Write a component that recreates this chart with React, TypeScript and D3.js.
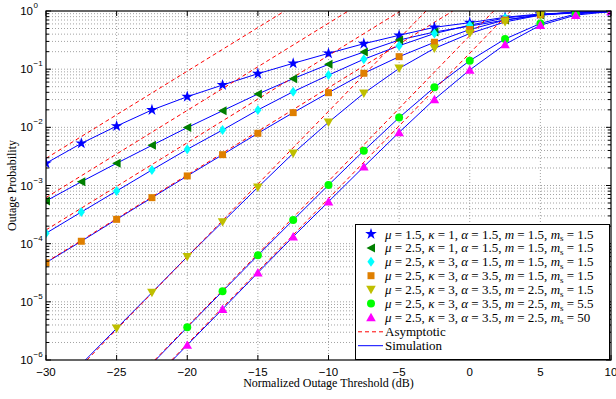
import { useEffect, useRef } from 'react';
import * as d3 from 'd3';

// normalized outage threshold (dB) at which markers are placed
const threshold = [-30, -27.5, -25, -22.5, -20, -17.5, -15, -12.5, -10, -7.5, -5, -2.5, 0, 2.5, 5, 7.5, 10];
const xTicks = [-30, -25, -20, -15, -10, -5, 0, 5, 10];
const yDecades = [-6, -5, -4, -3, -2, -1, 0];

// simulated outage probability, one array per parameter set (null = below the axis)
const sim1 = [2.41e-3, 5.3e-3, 1.05e-2, 1.99e-2, 3.36e-2, 5.34e-2, 8.36e-2, 0.126, 0.187, 0.274, 0.382, 0.524, 0.63, 0.78, 0.89, 0.94, 0.98];
const sim2 = [5.42e-4, 1.16e-3, 2.41e-3, 4.9e-3, 9.9e-3, 1.93e-2, 3.74e-2, 6.87e-2, 0.121, 0.197, 0.317, 0.435, 0.55, 0.7, 0.85, 0.93, 0.98];
const sim3 = [1.51e-4, 3.5e-4, 8.05e-4, 1.85e-3, 4.19e-3, 9.0e-3, 1.99e-2, 4.1e-2, 7.9e-2, 0.148, 0.253, 0.41, 0.57, 0.76, 0.87, 0.95, 0.98];
const sim4 = [4.71e-5, 1.1e-4, 2.62e-4, 6.18e-4, 1.46e-3, 3.39e-3, 7.9e-3, 1.79e-2, 3.94e-2, 8.5e-2, 0.164, 0.29, 0.48, 0.7, 0.86, 0.96, 0.98];
const sim5 = [null, 8.5e-7, 3.5e-6, 1.44e-5, 5.97e-5, 2.36e-4, 9.3e-4, 3.58e-3, 1.22e-2, 3.85e-2, 0.103, 0.228, 0.41, 0.65, 0.85, 0.95, 0.98];
const sim6 = [null, null, null, 8.6e-7, 3.65e-6, 1.52e-5, 6.3e-5, 2.55e-4, 1.02e-3, 3.97e-3, 1.47e-2, 4.87e-2, 0.14, 0.33, 0.61, 0.89, 0.98];
const sim7 = [null, null, null, 4.3e-7, 1.81e-6, 7.5e-6, 3.17e-5, 1.32e-4, 5.27e-4, 2.1e-3, 8.2e-3, 3.03e-2, 9.7e-2, 0.267, 0.57, 0.85, 0.98];

// asymptotic lines: [start dB, start value, end dB, end value]
const asym1 = [-30, 2.93e-3, -13.1, 1];
const asym2 = [-30, 6.2e-4, -8.6, 1];
const asym3 = [-30, 1.72e-4, -4.9, 1];
const asym4 = [-30, 4.8e-5, -1.2, 1];
const asym5 = [-27.1, 1e-6, -3.1, 1];
const asym6 = [-22.3, 1e-6, 1.7, 1];
const asym7 = [-21.1, 1e-6, 2.9, 1];

const labels = [
  ['1.5', '1', '1.5', '1.5', '1.5'],
  ['2.5', '1', '1.5', '1.5', '1.5'],
  ['2.5', '3', '1.5', '1.5', '1.5'],
  ['2.5', '3', '3.5', '1.5', '1.5'],
  ['2.5', '3', '3.5', '2.5', '1.5'],
  ['2.5', '3', '3.5', '2.5', '5.5'],
  ['2.5', '3', '3.5', '2.5', '50'],
];

const series = [
  { values: sim1, asym: asym1, color: '#0000ff', marker: 'star' },
  { values: sim2, asym: asym2, color: '#007f00', marker: 'left' },
  { values: sim3, asym: asym3, color: '#00ffff', marker: 'diamond' },
  { values: sim4, asym: asym4, color: '#df7f00', marker: 'square' },
  { values: sim5, asym: asym5, color: '#bfbf00', marker: 'down' },
  { values: sim6, asym: asym6, color: '#00ff00', marker: 'circle' },
  { values: sim7, asym: asym7, color: '#ff00ff', marker: 'up' },
];

function markerPath(kind: string) {
  switch (kind) {
    case 'star': return d3.symbol(d3.symbolStar, 42)()!;
    case 'left': return 'M-4.5,0L4,-4.5L4,4.5Z';
    case 'diamond': return 'M0,-5L3.6,0L0,5L-3.6,0Z';
    case 'square': return 'M-3.5,-3.5H3.5V3.5H-3.5Z';
    case 'down': return 'M-4.8,-3.8H4.8L0,4.6Z';
    case 'up': return 'M-4.8,3.8H4.8L0,-4.6Z';
    default: return d3.symbol(d3.symbolCircle, 50)()!;
  }
}

export default function App() {
  const svgRef = useRef<SVGSVGElement>(null);

  useEffect(() => {
    if (!svgRef.current) return;
    const svg = d3.select(svgRef.current);
    svg.selectAll('*').remove();

    const W = 616, H = 399;
    const left = 46, right = 611, top = 11, bottom = 360;
    svg.attr('width', W).attr('height', H);

    const x = d3.scaleLinear().domain([-30, 10]).range([left, right]);
    const y = d3.scaleLog().domain([1e-6, 1]).range([bottom, top]);

    svg.append('rect').attr('width', W).attr('height', H).attr('fill', '#fff');

    svg.append('defs').append('clipPath').attr('id', 'plot-clip')
      .append('rect').attr('x', left).attr('y', top).attr('width', right - left).attr('height', bottom - top);

    // Grid (major + minor, dotted)
    const grid = svg.append('g').attr('stroke', '#8c8c8c').attr('stroke-width', 0.8).attr('stroke-dasharray', '1,2');
    xTicks.slice(1, -1).forEach(t => {
      grid.append('line').attr('x1', x(t)).attr('x2', x(t)).attr('y1', top).attr('y2', bottom);
    });
    yDecades.forEach(e => {
      for (let k = 1; k <= 9; k++) {
        const v = k * Math.pow(10, e);
        if (v <= 1e-6 || v >= 1) continue;
        grid.append('line').attr('x1', left).attr('x2', right).attr('y1', y(v)).attr('y2', y(v));
      }
    });

    const plot = svg.append('g').attr('clip-path', 'url(#plot-clip)');

    // Simulation lines
    const line = d3.line<number | null>()
      .defined(d => d !== null)
      .x((_, i) => x(threshold[i]))
      .y(d => y(d as number));
    series.forEach(s => {
      plot.append('path').datum(s.values).attr('fill', 'none')
        .attr('stroke', '#0000ff').attr('stroke-width', 1).attr('d', line);
    });

    // Asymptotic lines
    series.forEach(s => {
      const [x0, v0, x1, v1] = s.asym;
      plot.append('line')
        .attr('x1', x(x0)).attr('y1', y(v0)).attr('x2', x(x1)).attr('y2', y(v1))
        .attr('stroke', '#ff0000').attr('stroke-width', 1).attr('stroke-dasharray', '4,3');
    });

    // Markers
    series.forEach(s => {
      const p = markerPath(s.marker);
      s.values.forEach((v, i) => {
        if (v === null) return;
        plot.append('path').attr('d', p)
          .attr('transform', `translate(${x(threshold[i])},${y(v)})`)
          .attr('fill', s.color);
      });
    });

    // Axes box and ticks
    const ax = svg.append('g').attr('stroke', '#000').attr('fill', 'none');
    ax.append('rect').attr('x', left).attr('y', top).attr('width', right - left).attr('height', bottom - top).attr('stroke-width', 1.2);
    xTicks.forEach(t => {
      ax.append('line').attr('x1', x(t)).attr('x2', x(t)).attr('y1', bottom).attr('y2', bottom - 5);
      ax.append('line').attr('x1', x(t)).attr('x2', x(t)).attr('y1', top).attr('y2', top + 5);
    });
    yDecades.forEach(e => {
      for (let k = 1; k <= 9; k++) {
        const v = k * Math.pow(10, e);
        if (v > 1) continue;
        const len = k === 1 ? 5 : 3;
        ax.append('line').attr('x1', left).attr('x2', left + len).attr('y1', y(v)).attr('y2', y(v));
        ax.append('line').attr('x1', right).attr('x2', right - len).attr('y1', y(v)).attr('y2', y(v));
      }
    });

    // Tick labels
    const tickFont = 'Liberation Sans, Arial, sans-serif';
    xTicks.forEach(t => {
      svg.append('text').attr('x', x(t)).attr('y', 375.5).attr('text-anchor', 'middle')
        .attr('font-family', tickFont).attr('font-size', 11.5).attr('fill', '#000')
        .text(t < 0 ? `\u2212${-t}` : `${t}`);
    });
    yDecades.forEach(e => {
      svg.append('text').attr('x', 33).attr('y', y(Math.pow(10, e)) + 4).attr('text-anchor', 'end')
        .attr('font-family', tickFont).attr('font-size', 11.5).attr('fill', '#000')
        .text('10');
      svg.append('text').attr('x', 33.5).attr('y', y(Math.pow(10, e)) - 3)
        .attr('font-family', tickFont).attr('font-size', 8).attr('fill', '#000')
        .text(e < 0 ? `\u2212${-e}` : `${e}`);
    });

    // Axis labels
    const serif = 'Liberation Serif, Times New Roman, serif';
    svg.append('text').attr('x', (left + right) / 2).attr('y', 387).attr('text-anchor', 'middle')
      .attr('font-family', serif).attr('font-size', 12).attr('fill', '#000')
      .text('Normalized Outage Threshold (dB)');
    svg.append('text').attr('transform', `translate(16,${(top + bottom) / 2}) rotate(-90)`)
      .attr('text-anchor', 'middle')
      .attr('font-family', serif).attr('font-size', 12).attr('fill', '#000')
      .text('Outage Probability');

    // Legend
    const lg = svg.append('g');
    lg.append('rect').attr('x', 355.5).attr('y', 224.5).attr('width', 254).attr('height', 135)
      .attr('fill', '#fff').attr('stroke', '#000').attr('stroke-width', 1);
    const rowY = (i: number) => 234 + i * 13.9;
    series.forEach((s, i) => {
      lg.append('path').attr('d', markerPath(s.marker))
        .attr('transform', `translate(371,${rowY(i)})`).attr('fill', s.color);
      const [mu, ka, al, m, ms] = labels[i];
      const t = lg.append('text').attr('x', 385).attr('y', rowY(i) + 4.5)
        .attr('font-family', serif).attr('font-size', 13).attr('fill', '#000');
      const part = (sym: string, val: string) => {
        t.append('tspan').attr('font-style', 'italic').text(sym);
        t.append('tspan').text(` = ${val}, `);
      };
      part('\u03bc', mu);
      part('\u03ba', ka);
      part('\u03b1', al);
      part('m', m);
      t.append('tspan').attr('font-style', 'italic').text('m');
      t.append('tspan').attr('font-size', 9).attr('dy', 2.5).text('s');
      t.append('tspan').attr('dy', -2.5).text(` = ${ms}`);
    });
    const ly1 = rowY(7) + 0.5, ly2 = rowY(8) + 0.5;
    lg.append('line').attr('x1', 358).attr('x2', 383).attr('y1', ly1).attr('y2', ly1)
      .attr('stroke', '#ff0000').attr('stroke-dasharray', '4,3');
    lg.append('text').attr('x', 385).attr('y', ly1 + 4.5).attr('font-family', serif).attr('font-size', 13).text('Asymptotic');
    lg.append('line').attr('x1', 358).attr('x2', 383).attr('y1', ly2).attr('y2', ly2)
      .attr('stroke', '#0000ff');
    lg.append('text').attr('x', 385).attr('y', ly2 + 4.5).attr('font-family', serif).attr('font-size', 13).text('Simulation');
  }, []);

  return (
    <div style={{ position: 'absolute', left: 0, top: 0 }}>
      <svg ref={svgRef} style={{ display: 'block' }} />
    </div>
  );
}
